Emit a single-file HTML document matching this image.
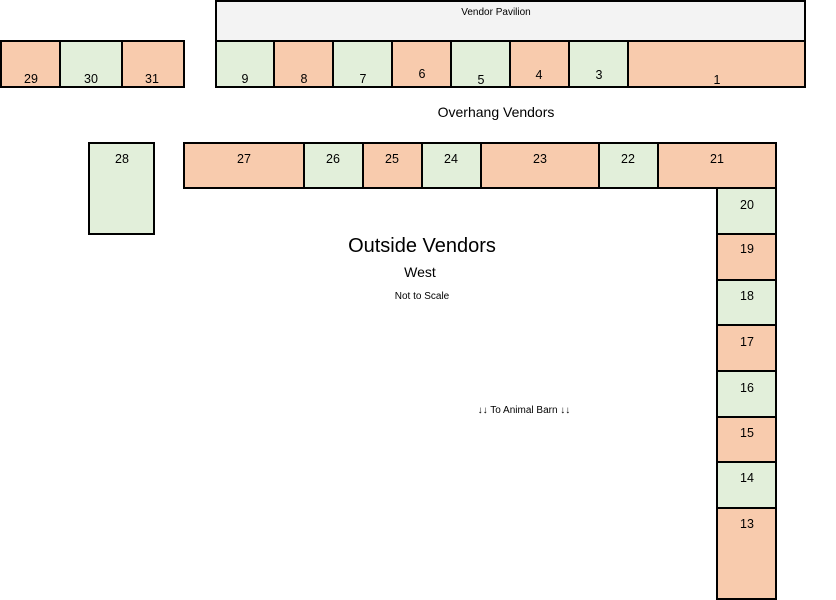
<!DOCTYPE html>
<html><head><meta charset="utf-8"><style>
html,body{margin:0;padding:0;background:#fff;}
svg{display:block;}
text{font-family:"Liberation Sans",Arial,sans-serif;fill:#000;}
</style></head><body>
<svg width="836" height="600" viewBox="0 0 836 600" xmlns="http://www.w3.org/2000/svg">
<g stroke="#000" stroke-width="2">
<!-- top left group -->
<rect x="1" y="41" width="59" height="46" fill="#f8cbad"/>
<rect x="60" y="41" width="62" height="46" fill="#e2efda"/>
<rect x="122" y="41" width="62" height="46" fill="#f8cbad"/>
<!-- pavilion -->
<rect x="216" y="1" width="589" height="40" fill="#f3f3f3"/>
<rect x="216" y="41" width="58" height="46" fill="#e2efda"/>
<rect x="274" y="41" width="59" height="46" fill="#f8cbad"/>
<rect x="333" y="41" width="59" height="46" fill="#e2efda"/>
<rect x="392" y="41" width="59" height="46" fill="#f8cbad"/>
<rect x="451" y="41" width="59" height="46" fill="#e2efda"/>
<rect x="510" y="41" width="59" height="46" fill="#f8cbad"/>
<rect x="569" y="41" width="59" height="46" fill="#e2efda"/>
<rect x="628" y="41" width="177" height="46" fill="#f8cbad"/>
<!-- 28 -->
<rect x="89" y="143" width="65" height="91" fill="#e2efda"/>
<!-- row 2 -->
<rect x="184" y="143" width="120" height="45" fill="#f8cbad"/>
<rect x="304" y="143" width="59" height="45" fill="#e2efda"/>
<rect x="363" y="143" width="59" height="45" fill="#f8cbad"/>
<rect x="422" y="143" width="59" height="45" fill="#e2efda"/>
<rect x="481" y="143" width="118" height="45" fill="#f8cbad"/>
<rect x="599" y="143" width="59" height="45" fill="#e2efda"/>
<rect x="658" y="143" width="118" height="45" fill="#f8cbad"/>
<!-- column -->
<rect x="717" y="188" width="59" height="46" fill="#e2efda"/>
<rect x="717" y="234" width="59" height="46" fill="#f8cbad"/>
<rect x="717" y="280" width="59" height="45" fill="#e2efda"/>
<rect x="717" y="325" width="59" height="46" fill="#f8cbad"/>
<rect x="717" y="371" width="59" height="46" fill="#e2efda"/>
<rect x="717" y="417" width="59" height="45" fill="#f8cbad"/>
<rect x="717" y="462" width="59" height="46" fill="#e2efda"/>
<rect x="717" y="508" width="59" height="91" fill="#f8cbad"/>
</g>
<g font-size="12.5" text-anchor="middle">
<text x="31" y="83">29</text>
<text x="91" y="83">30</text>
<text x="152" y="83">31</text>
<text x="245" y="83">9</text>
<text x="304" y="83">8</text>
<text x="363" y="83">7</text>
<text x="422" y="78">6</text>
<text x="481" y="84">5</text>
<text x="539" y="79">4</text>
<text x="599" y="79">3</text>
<text x="717" y="84">1</text>
<text x="122" y="163">28</text>
<text x="244" y="163">27</text>
<text x="333" y="163">26</text>
<text x="392" y="163">25</text>
<text x="451" y="163">24</text>
<text x="540" y="163">23</text>
<text x="628" y="163">22</text>
<text x="717" y="163">21</text>
<text x="747" y="209">20</text>
<text x="747" y="253">19</text>
<text x="747" y="300">18</text>
<text x="747" y="346">17</text>
<text x="747" y="392">16</text>
<text x="747" y="437">15</text>
<text x="747" y="482">14</text>
<text x="747" y="528">13</text>
</g>
<text x="496" y="15" font-size="10" text-anchor="middle">Vendor Pavilion</text>
<text x="496" y="117" font-size="14" text-anchor="middle">Overhang Vendors</text>
<text x="422" y="252" font-size="20" text-anchor="middle">Outside Vendors</text>
<text x="420" y="277" font-size="14" text-anchor="middle">West</text>
<text x="422" y="299" font-size="10" text-anchor="middle">Not to Scale</text>
<text x="524" y="413" font-size="10" text-anchor="middle">↓↓ To Animal Barn ↓↓</text>
</svg>
</body></html>
